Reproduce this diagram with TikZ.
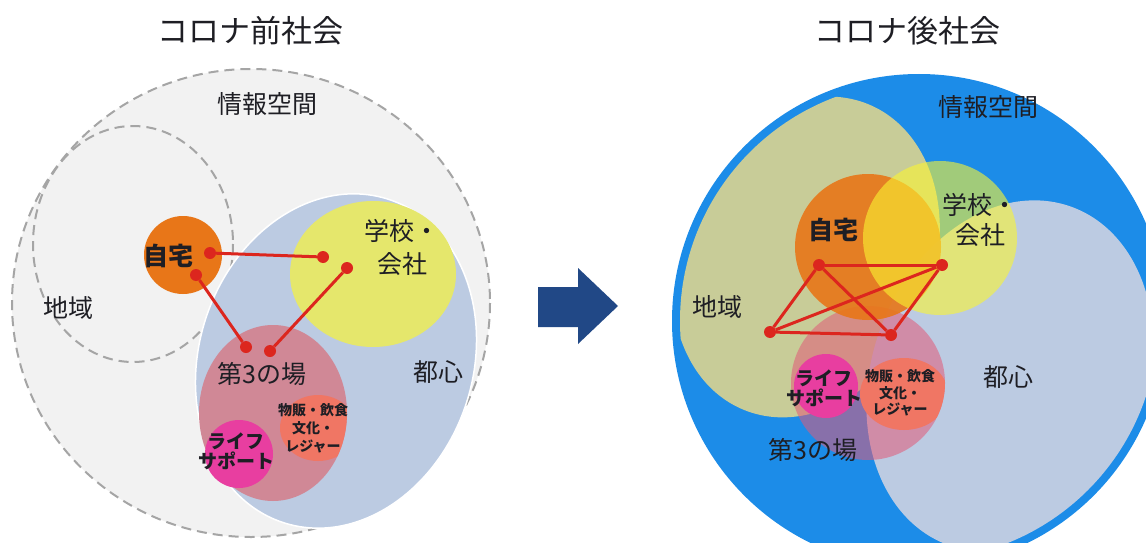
\documentclass[tikz,border=0pt]{standalone}
\usepackage{fontspec}
\setmainfont{Noto Sans CJK JP}
\usepackage{xcolor}
\definecolor{colorInfo}{RGB}{242,242,242}
\definecolor{colorDash}{RGB}{165,165,165}
\definecolor{colorCity}{RGB}{188,203,226}
\definecolor{colorWork}{RGB}{229,231,108}
\definecolor{colorHome}{RGB}{232,118,24}
\definecolor{colorThird}{RGB}{208,136,150}
\definecolor{colorThirdNew}{RGB}{225,90,120}
\definecolor{colorShop}{RGB}{240,118,100}
\definecolor{colorLife}{RGB}{232,62,160}
\definecolor{colorLink}{RGB}{220,38,30}
\definecolor{colorArrow}{RGB}{33,72,134}
\definecolor{colorNet}{RGB}{28,140,232}
\definecolor{colorLocal}{RGB}{200,204,152}
\definecolor{colorWorkNew}{RGB}{250,245,50}
\definecolor{colorText}{RGB}{30,30,36}
\usetikzlibrary{positioning}
\tikzset{
  zone/.style={colorDash, line width=2pt, dash pattern=on 10pt off 6pt},
  dot/.style={circle, fill=colorLink, inner sep=0pt, minimum size=12pt},
  link/.style={colorLink, line width=3pt},
  headtxt/.style={font=\fontsize{31}{34}\selectfont, text=colorText},
  txt/.style={font=\fontsize{25}{30}\selectfont, text=colorText, align=center},
  boldtxt/.style={font=\bfseries\fontsize{25}{30}\selectfont, text=colorText},
  tagtxt/.style={font=\bfseries\fontsize{19}{20}\selectfont, text=colorText, align=center},
  smalltxt/.style={font=\bfseries\fontsize{14}{18}\selectfont, text=colorText, align=center}
}

\begin{document}
\begin{tikzpicture}[x=1pt, y=-1pt, every node/.style={inner sep=0pt}]
\fill[white] (0,0) rectangle (1146,543);
\useasboundingbox (0,0) rectangle (1146,543);

% before
\fill[colorInfo] (251,303) ellipse [x radius=239, y radius=234];
\draw[zone] (251,303) ellipse [x radius=239, y radius=234];
\draw[zone] (133,244) ellipse [x radius=100, y radius=118];
\fill[colorCity, draw=white, line width=1.5pt, rotate around={72:(336,361)}] (336,361) ellipse [x radius=170, y radius=137];
\fill[colorWork] (373,274) ellipse [x radius=83, y radius=73];
\fill[colorHome] (183,255) circle [radius=39];
\fill[colorThird] (273,413) ellipse [x radius=74, y radius=88];
\begin{scope}
\clip (273,413) ellipse [x radius=74, y radius=88];
\fill[colorShop] (318,428) ellipse [x radius=38, y radius=33];
\end{scope}
\fill[colorLife] (239,454) circle [radius=34];

\node[dot] (homeA) at (210,253) {};
\node[dot] (homeB) at (196,275) {};
\node[dot] (workA) at (323,257) {};
\node[dot] (workB) at (347,268) {};
\node[dot] (thirdA) at (246,347) {};
\node[dot] (thirdB) at (270,351) {};
\draw[link] (homeA) -- (workA);
\draw[link] (homeB) -- (thirdA);
\draw[link] (workB) -- (thirdB);

\node[headtxt] (preTitle) at (250,31) {コロナ前社会};
\node[txt] (preNet) at (267,104) {情報空間};
\node[txt] (preLocal) at (68,308) {地域};
\node[boldtxt] (preHome) at (168,256) {自宅};
\node[txt, font=\fontsize{25}{33}\selectfont] (preWork) at (402,247) {学校・\\会社};
\node[txt] (preCity) at (438,372) {都心};
\node[txt] (preThird) at (262,374) {第3の場};
\node[smalltxt] (preShop) at (313,428) {物販・飲食\\文化・\\レジャー};
\node[tagtxt] (preLife) at (236,451) {ライフ\\サポート};

% arrow
\fill[colorArrow] (538,287) -- (578,287) -- (578,268) -- (618,306) -- (578,344) -- (578,327) -- (538,327) -- cycle;

% after
\fill[colorNet] (919,321) circle [radius=247];
\begin{scope}
\clip (919,321) circle [radius=239];
\fill[colorLocal, rotate around={68:(806,257)}] (806,257) ellipse [x radius=165, y radius=128];
\fill[colorCity, rotate around={70:(1010,376)}] (1010,376) ellipse [x radius=180, y radius=138];
\fill[colorThirdNew, opacity=0.55] (868,383) circle [radius=77];
\begin{scope}
\clip (868,383) circle [radius=77];
\fill[colorShop] (904,394) ellipse [x radius=44, y radius=36];
\end{scope}
\fill[colorLife] (826,386) circle [radius=32];
\fill[colorHome, opacity=0.9] (868,247) circle [radius=73];
\fill[colorWorkNew, opacity=0.6] (940,238) circle [radius=77];
\end{scope}

\node[dot] (nodeA) at (819,265) {};
\node[dot] (nodeB) at (942,265) {};
\node[dot] (nodeC) at (770,332) {};
\node[dot] (nodeD) at (891,335) {};
\draw[link] (nodeA) -- (nodeB);
\draw[link] (nodeA) -- (nodeC);
\draw[link] (nodeC) -- (nodeD);
\draw[link] (nodeC) -- (nodeB);
\draw[link] (nodeA) -- (nodeD);
\draw[link] (nodeD) -- (nodeB);

\node[headtxt] (postTitle) at (907,31) {コロナ後社会};
\node[txt] (postNet) at (988,107) {情報空間};
\node[txt] (postWork) at (980,220) {学校・\\会社};
\node[boldtxt] (postHome) at (833,230) {自宅};
\node[txt] (postLocal) at (717,307) {地域};
\node[tagtxt] (postLife) at (824,388) {ライフ\\サポート};
\node[smalltxt, font=\bfseries\fontsize{14}{16.5}\selectfont] (postShop) at (900,393) {物販・飲食\\文化・\\レジャー};
\node[txt] (postThird) at (813,450) {第3の場};
\node[txt] (postCity) at (1008,377) {都心};
\end{tikzpicture}
\end{document}
